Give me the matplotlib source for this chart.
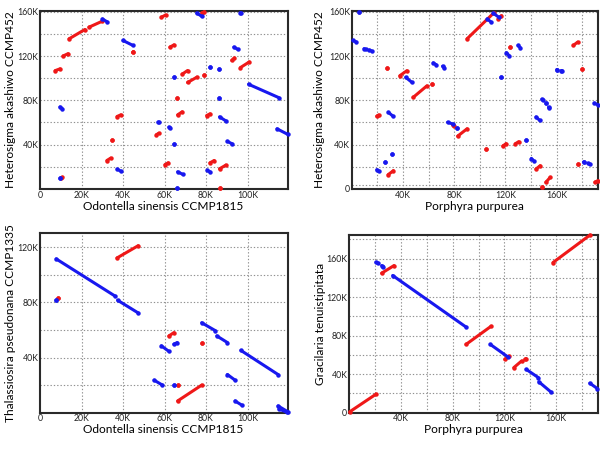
import matplotlib
matplotlib.use("Agg")
import matplotlib.pyplot as plt

plt.rcParams['font.family'] = ['Lato', 'DejaVu Sans']

# alignment segments in kb: (x0, y0, x1, y1); red = forward, blue = reverse
p1_red = [(7.3, 106.8, 9.6, 108.4), (11.1, 120.0, 13.5, 122.1), (14.0, 135.5, 21.6, 143.9),
          (23.6, 146.0, 30.1, 151.5), (44.6, 123.2, 45.0, 124.0), (37.1, 65.4, 38.9, 66.9),
          (34.6, 44.5, 34.6, 44.5), (32.2, 25.7, 34.0, 27.8), (10.2, 10.0, 10.8, 10.6),
          (56.1, 49.0, 57.1, 50.2), (58.5, 155.0, 60.5, 157.0), (77.9, 158.8, 79.2, 160.0),
          (62.6, 128.0, 64.5, 130.0), (92.4, 116.0, 93.7, 118.2), (96.6, 109.6, 100.8, 114.6),
          (68.5, 103.6, 71.1, 106.9), (71.1, 96.1, 75.6, 100.9), (79.2, 102.7, 79.2, 102.7),
          (66.0, 82.4, 66.0, 82.4), (66.3, 66.9, 68.5, 69.6), (80.3, 66.3, 81.9, 67.8),
          (60.2, 22.0, 61.8, 23.6), (81.9, 23.6, 83.9, 25.7), (86.5, 18.2, 89.5, 21.5),
          (86.5, 0.8, 86.5, 0.8)]
p1_blue = [(30.1, 153.4, 32.2, 151.0), (40.0, 134.0, 44.7, 129.6), (9.6, 74.0, 10.7, 72.5),
           (37.2, 17.9, 38.9, 16.1), (9.8, 9.6, 9.8, 9.6), (56.9, 60.3, 57.3, 60.0),
           (75.5, 158.8, 77.9, 155.8), (96.5, 159.0, 96.9, 158.6), (93.4, 128.0, 95.3, 126.0),
           (81.9, 110.0, 81.9, 110.0), (86.3, 108.7, 86.3, 108.7), (64.7, 101.2, 64.7, 101.2),
           (86.3, 82.4, 86.3, 82.4), (100.5, 94.5, 115.0, 82.5), (86.5, 65.1, 89.5, 61.5),
           (62.1, 55.8, 62.5, 55.3), (114.2, 54.3, 119.5, 49.2), (64.7, 40.6, 64.7, 40.6),
           (90.3, 43.0, 92.7, 40.6), (66.3, 15.5, 68.9, 13.1), (80.6, 16.7, 81.9, 15.5),
           (65.8, 0.8, 65.8, 0.8)]

p2_red = [(19.5, 65.6, 21.0, 66.8), (27.3, 109.6, 27.3, 109.6), (37.5, 102.2, 43.0, 106.7),
          (47.9, 82.6, 58.6, 93.0), (63.0, 94.5, 63.0, 94.5), (28.4, 12.9, 32.5, 16.5),
          (78.7, 58.1, 80.0, 56.7), (82.7, 47.7, 90.0, 54.3), (90.0, 135.5, 111.0, 159.0),
          (114.3, 153.4, 116.9, 156.4), (123.9, 128.1, 123.9, 128.1), (173.0, 129.6, 176.3, 132.5),
          (179.4, 108.7, 179.4, 108.7), (105.0, 36.4, 105.0, 36.4), (117.9, 38.8, 120.5, 40.9),
          (127.8, 40.9, 130.3, 42.7), (143.8, 18.0, 147.1, 21.0), (148.5, 1.6, 148.5, 1.6),
          (151.5, 6.0, 154.9, 10.5), (176.3, 23.0, 176.3, 23.0), (189.8, 6.1, 192.0, 7.5)]
p2_blue = [(5.6, 159.3, 5.6, 159.3), (1.2, 134.0, 3.6, 132.6), (9.6, 126.6, 10.9, 126.0),
           (13.7, 125.4, 15.6, 124.5), (19.5, 17.4, 21.3, 15.9), (26.0, 24.0, 26.0, 24.0),
           (31.7, 31.4, 31.7, 31.4), (28.6, 69.2, 32.3, 65.6), (42.2, 100.7, 46.9, 96.3),
           (63.6, 113.8, 65.7, 112.3), (70.9, 110.8, 72.2, 109.6), (74.8, 60.2, 78.7, 58.7),
           (82.1, 55.2, 82.1, 55.2), (110.4, 158.8, 114.8, 154.9), (105.8, 153.4, 108.4, 151.0),
           (120.8, 123.0, 123.1, 120.0), (129.8, 129.6, 131.6, 127.5), (116.6, 101.3, 116.6, 101.3),
           (160.0, 107.8, 160.6, 107.5), (163.6, 106.9, 164.4, 106.7), (148.4, 81.0, 149.5, 80.0),
           (151.5, 77.5, 151.5, 77.5), (153.6, 73.8, 154.1, 73.0), (143.8, 65.0, 146.6, 62.0),
           (136.3, 43.9, 136.3, 43.9), (140.2, 27.5, 142.0, 25.4), (181.0, 24.5, 181.6, 24.2),
           (184.5, 23.2, 185.9, 22.4), (189.3, 77.5, 192.0, 76.0)]

p3_red = [(37.1, 112.3, 47.3, 121.2), (8.9, 83.3, 8.9, 83.3), (62.1, 55.7, 64.5, 58.1),
          (77.9, 50.4, 77.9, 50.4), (66.3, 8.5, 77.9, 20.0), (66.3, 20.2, 66.3, 20.2)]
p3_blue = [(7.8, 111.6, 36.3, 84.5), (37.4, 81.6, 47.2, 72.5), (7.8, 82.1, 7.8, 82.1),
           (55.0, 23.6, 59.0, 20.0), (58.5, 48.5, 62.1, 44.5), (64.5, 49.7, 66.1, 50.9),
           (77.9, 65.3, 84.4, 59.6), (85.2, 55.7, 90.3, 50.9), (96.8, 45.2, 114.7, 27.7),
           (90.3, 27.7, 94.0, 23.6), (94.0, 8.5, 97.3, 5.4), (114.7, 4.9, 119.5, 0.6),
           (115.2, 2.6, 119.0, 0.3), (64.4, 20.2, 64.4, 20.2)]

p4_red = [(0.6, 1.0, 20.8, 19.2), (25.2, 144.9, 34.7, 152.8), (90.3, 70.9, 109.7, 89.8),
          (120.3, 55.4, 123.4, 58.8), (127.2, 46.8, 133.2, 53.7), (135.8, 55.4, 136.8, 56.1),
          (157.5, 156.0, 186.0, 184.5)]
p4_blue = [(20.8, 156.2, 22.6, 155.2), (25.2, 152.8, 26.5, 151.8), (33.7, 142.5, 90.3, 89.0),
           (109.1, 70.9, 122.8, 57.8), (136.8, 45.0, 146.1, 36.5), (146.6, 32.0, 155.7, 21.7),
           (185.9, 30.6, 191.8, 25.0)]

odontella = 'Odontella sinensis CCMP1815'
porphyra = 'Porphyra purpurea'

panels = [
    dict(red=p1_red, blue=p1_blue, xlim=119.5, ylim=160.6, xlabel=odontella,
         ylabel='Heterosigma akashiwo CCMP452', xticks=[0, 20, 40, 60, 80, 100],
         yticks=[40, 80, 120, 160], pos=[0.0667, 0.5828, 0.4133, 0.3929],
         xl=(0.496, -0.096), yl=(-0.121, 0.5)),
    dict(red=p2_red, blue=p2_blue, xlim=192, ylim=160.6, xlabel=porphyra,
         ylabel='Heterosigma akashiwo CCMP452', xticks=[40, 80, 120, 160],
         yticks=[0, 40, 80, 120, 160], pos=[0.5862, 0.5828, 0.41, 0.3929],
         xl=(0.5, -0.1), yl=(-0.129, 0.5)),
    dict(red=p3_red, blue=p3_blue, xlim=119.5, ylim=130.2, xlabel=odontella,
         ylabel='Thalassiosira pseudonana CCMP1335', xticks=[0, 20, 40, 60, 80, 100],
         yticks=[40, 80, 120], pos=[0.0667, 0.089, 0.4133, 0.396],
         xl=(0.496, -0.096), yl=(-0.121, 0.5)),
    dict(red=p4_red, blue=p4_blue, xlim=192, ylim=184.6, xlabel=porphyra,
         ylabel='Gracilaria tenuistipitata', xticks=[40, 80, 120, 160],
         yticks=[0, 40, 80, 120, 160], pos=[0.5817, 0.089, 0.4145, 0.3923],
         xl=(0.5, -0.097), yl=(-0.114, 0.5)),
]


def klabel(v):
    return '0' if v == 0 else f'{v}K'


fig = plt.figure(figsize=(6, 4.53), dpi=100)

for p in panels:
    ax = fig.add_axes(p['pos'])
    ax.set_xlim(0, p['xlim'])
    ax.set_ylim(0, p['ylim'])
    for gx in range(20, int(p['xlim']) + 1, 20):
        ax.axvline(gx, color='#909090', lw=0.8, ls=(0, (1.2, 1.8)), zorder=0)
    for gy in range(20, int(p['ylim']) + 1, 20):
        ax.axhline(gy, color='#909090', lw=0.8, ls=(0, (1.2, 1.8)), zorder=0)
    for color, segs in (('#ef1818', p['red']), ('#1818ef', p['blue'])):
        for x0, y0, x1, y1 in segs:
            ax.plot([x0, x1], [y0, y1], '-o', color=color, lw=2.2, ms=3.2,
                    mew=0, solid_capstyle='round', clip_on=False, zorder=3)
    ax.set_xticks(p['xticks'])
    ax.set_xticklabels([klabel(v) for v in p['xticks']])
    ax.set_yticks(p['yticks'])
    ax.set_yticklabels([klabel(v) for v in p['yticks']])
    ax.tick_params(length=0, pad=1.2, labelsize=6.3, colors='#222222')
    ax.set_xlabel(p['xlabel'], fontsize=8.6, va='center')
    ax.set_ylabel(p['ylabel'], fontsize=8.6, va='center')
    ax.xaxis.set_label_coords(*p['xl'])
    ax.yaxis.set_label_coords(*p['yl'])
    for s in ax.spines.values():
        s.set_linewidth(1.5)
        s.set_color('#2a2a2a')

# extra faint line near the bottom of the Porphyra / Heterosigma panel
fig.axes[1].axhline(3.3, color='#909090', lw=0.8, ls=(0, (1.2, 1.8)), zorder=0)

fig.savefig('out.png', dpi=100)
